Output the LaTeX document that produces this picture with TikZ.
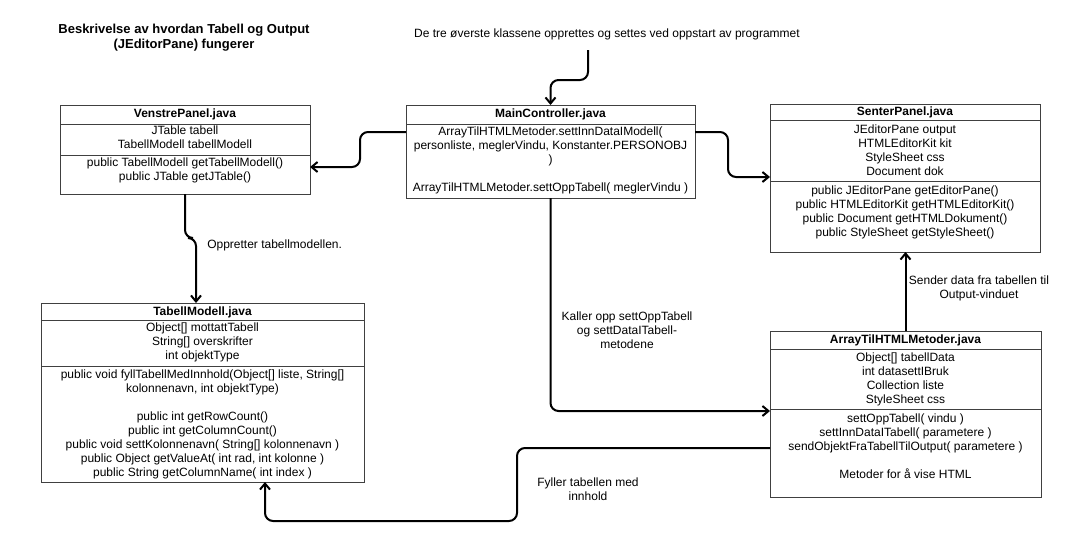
\documentclass[tikz,border=0pt]{standalone}
\usepackage{fontspec}
\setmainfont{Liberation Sans}
\usetikzlibrary{arrows.meta,calc}
\begin{document}
\begin{tikzpicture}[x=0.75pt,y=-0.75pt]
\tikzset{
 cls/.style={draw=black!75, line width=0.75pt, fill=white, inner sep=0pt, outer sep=0pt, anchor=north west},
 txt/.style={font=\fontsize{9pt}{10.5pt}\selectfont, align=center, inner sep=0pt},
 ltxt/.style={font=\fontsize{9pt}{10.5pt}\selectfont, align=left, inner sep=0pt},
 ttl/.style={font=\bfseries\fontsize{9pt}{10.5pt}\selectfont, inner sep=0pt},
 conn/.style={line width=1.5pt, rounded corners=6pt, -{Straight Barb[length=4.5pt,width=7.5pt]}},
 divl/.style={draw=black!75, line width=0.75pt}
}
\fill[white] (0,0) rectangle (1074,546);
\useasboundingbox (0,0) rectangle (1074,546);

% title
\node[font=\bfseries\fontsize{9.75pt}{11.25pt}\selectfont, align=center, inner sep=0pt] (title) at (184,38)
 {Beskrivelse av hvordan Tabell og Output\\(JEditorPane) fungerer};
\node[txt] (top) at (607,34) {De tre øverste klassene opprettes og settes ved oppstart av programmet};

% VenstrePanel
\node[cls, minimum width=187.5pt, minimum height=66.75pt] (vp) at (60,105) {};
\draw[divl] (vp.west |- 0,124) -- (vp.east |- 0,124);
\draw[divl] (vp.west |- 0,155) -- (vp.east |- 0,155);
\node[ttl] (vpt) at (185,114) {VenstrePanel.java};
\node[txt] (vpa) at (185,137) {JTable tabell\\TabellModell tabellModell};
\node[txt] (vpm) at (185,170) {public TabellModell getTabellModell()\\public JTable getJTable()};

% MainController
\node[cls, minimum width=216.75pt, minimum height=69.75pt] (mc) at (406,105) {};
\draw[divl] (mc.west |- 0,124) -- (mc.east |- 0,124);
\node[ttl] (mct) at (550.5,114) {MainController.java};
\node[txt] (mcb) at (550.5,160) {ArrayTilHTMLMetoder.settInnDataIModell(\\personliste, meglerVindu, Konstanter.PERSONOBJ\\)\\[10.5pt]ArrayTilHTMLMetoder.settOppTabell( meglerVindu )};

% SenterPanel
\node[cls, minimum width=202.5pt, minimum height=111pt] (sp) at (770,104) {};
\draw[divl] (sp.west |- 0,120) -- (sp.east |- 0,120);
\draw[divl] (sp.west |- 0,181) -- (sp.east |- 0,181);
\node[ttl] (spt) at (905,112) {SenterPanel.java};
\node[txt] (spa) at (905,150) {JEditorPane output\\HTMLEditorKit kit\\StyleSheet css\\Document dok};
\node[txt] (spm) at (905,212) {public JEditorPane getEditorPane()\\public HTMLEditorKit getHTMLEditorKit()\\public Document getHTMLDokument()\\public StyleSheet getStyleSheet()};

% TabellModell
\node[cls, minimum width=242.25pt, minimum height=134.25pt] (tm) at (41,303) {};
\draw[divl] (tm.west |- 0,320) -- (tm.east |- 0,320);
\draw[divl] (tm.west |- 0,366) -- (tm.east |- 0,366);
\node[ttl] (tmt) at (202.5,312) {TabellModell.java};
\node[txt] (tma) at (202.5,342) {Object[] mottattTabell\\String[] overskrifter\\int objektType};
\node[txt] (tmm) at (202.5,424.5) {public void fyllTabellMedInnhold(Object[] liste, String[]\\kolonnenavn, int objektType)\\[10.5pt]public int getRowCount()\\public int getColumnCount()\\public void settKolonnenavn( String[] kolonnenavn )\\public Object getValueAt( int rad, int kolonne )\\public String getColumnName( int index )};

% ArrayTilHTMLMetoder
\node[cls, minimum width=203.25pt, minimum height=124.5pt] (at) at (770,331) {};
\draw[divl] (at.west |- 0,349) -- (at.east |- 0,349);
\draw[divl] (at.west |- 0,409) -- (at.east |- 0,409);
\node[ttl] (att) at (905.5,340) {ArrayTilHTMLMetoder.java};
\node[txt] (ata) at (905.5,379) {Object[] tabellData\\int datasettIBruk\\Collection liste\\StyleSheet css};
\node[txt] (atm) at (905.5,446.5) {settOppTabell( vindu )\\settInnDataITabell( parametere )\\sendObjektFraTabellTilOutput( parametere )\\[10.5pt]Metoder for å vise HTML};

% labels
\node[ltxt, anchor=west] (l1) at (207,245) {Oppretter tabellmodellen.};
\node[txt] (l2) at (627,330) {Kaller opp settOppTabell\\og settDataITabell-\\metodene};
\node[txt] (l3) at (979,288) {Sender data fra tabellen til\\Output-vinduet};
\node[txt] (l4) at (588,489) {Fyller tabellen med\\innhold};

% connectors
\coordinate (start) at (588,50);
\draw[conn] (start) -- (588,80) -- (550.5,80) -- (mc.north);
\draw[conn] (mc.west |- 0,132) -- (360,132) -- (360,167) -- (vp.east |- 0,167);
\draw[conn] (mc.east |- 0,132) -- (728,132) -- (728,177) -- (sp.west |- 0,177);
\draw[conn] (mc.south) -- (550.5,411) -- (at.west |- 0,411);
\draw[conn] (vp.south) -- (185,238) -- (196,238) -- (tm.north -| 196,0);
\draw[conn] (at.north) -- (at.north |- sp.south);
\draw[conn] (at.west |- 0,448) -- (517,448) -- (517,521) -- (265,521) -- (tm.south -| 265,0);
\end{tikzpicture}
\end{document}
